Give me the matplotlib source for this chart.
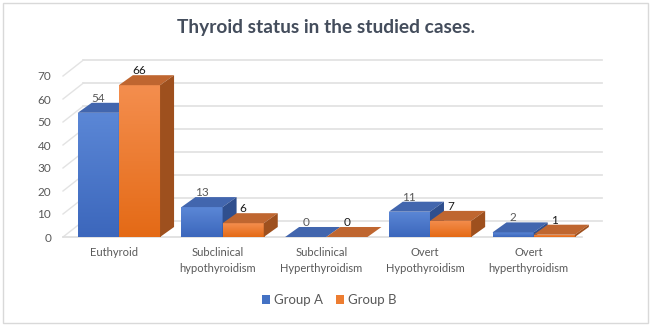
import numpy as np
import matplotlib.pyplot as plt
from matplotlib.patches import Polygon, Rectangle
from matplotlib.colors import LinearSegmentedColormap

# data
categories = ["Euthyroid", "Subclinical\nhypothyroidism", "Subclinical\nHyperthyroidism",
              "Overt\nHypothyroidism", "Overt\nhyperthyroidism"]
group_a = [54, 13, 0, 11, 2]
group_b = [66, 6, 0, 7, 1]
yticks = [0, 10, 20, 30, 40, 50, 60, 70]
title = "Thyroid status in the studied cases."

plt.rcParams['font.family'] = ['Lato', 'DejaVu Sans']

fig = plt.figure(figsize=(6.54, 3.28), dpi=100)
ax = fig.add_axes([63/654, 91/328, 519/654, 161/328])
x = np.arange(len(categories))
w = 0.397
xmin, xmax = -0.539, 4.466
ax.set_xlim(xmin, xmax)
ax.set_ylim(0, 70)

# fake 3D offsets (data units)
bdx, bdy = 0.135, 4.35   # bar depth
wdx, wdy = 0.197, 6.96   # back wall depth

grid_col = '#E3E3E3'
for v in yticks:
    # back wall gridline
    ax.plot([xmin + wdx, xmax + wdx], [v + wdy, v + wdy], color=grid_col, lw=1.3,
            clip_on=False, zorder=0.5)
    # left side wall diagonal
    ax.plot([xmin, xmin + wdx], [v, v + wdy], color=grid_col, lw=1.0,
            clip_on=False, zorder=0.5)
# floor front edge
ax.plot([xmin, xmax], [0, 0], color='#DDDDDD', lw=1.2, clip_on=False, zorder=0.6)

styles = {
    'A': dict(top='#5B87D6', bot='#3C67BC', lid='#4266AE', side='#2F4F8E',
              legend='#4472C4', label='#595959'),
    'B': dict(top='#F48E4E', bot='#E46A16', lid='#BF6630', side='#9E501E',
              legend='#ED7D31', label='#1A1A1A'),
}

grad = np.linspace(0, 1, 64).reshape(-1, 1)

def draw_group(offset, vals, st, z, name):
    bars = ax.bar(x + offset, vals, w, align='edge', color=st['legend'],
                  label=name, zorder=z, linewidth=0)
    cmap = LinearSegmentedColormap.from_list('g', [st['bot'], st['top']])
    for rect, v in zip(bars, vals):
        x0 = rect.get_x()
        x1 = x0 + rect.get_width()
        if v > 0:
            im = ax.imshow(grad, extent=[x0, x1, 0, v], origin='lower', cmap=cmap,
                           aspect='auto', zorder=z + 0.05, interpolation='bilinear')
            im.set_clip_path(rect)
        # top face
        ax.add_patch(Polygon([(x0, v), (x1, v), (x1 + bdx, v + bdy), (x0 + bdx, v + bdy)],
                             closed=True, facecolor=st['lid'], edgecolor='none',
                             zorder=z + 0.1, clip_on=False))
        # side face
        ax.add_patch(Polygon([(x1, 0), (x1 + bdx, bdy), (x1 + bdx, v + bdy), (x1, v)],
                             closed=True, facecolor=st['side'], edgecolor='none',
                             zorder=z + 0.1, clip_on=False))
        ax.text((x0 + x1) / 2, v + bdy + 2, str(v), ha='center', va='center',
                fontsize=8.5, color=st['label'], zorder=10)
    return bars

draw_group(-w, group_a, styles['A'], 2, "Group A")
draw_group(0, group_b, styles['B'], 3, "Group B")

ax.set_xlim(xmin, xmax)
ax.set_ylim(0, 70)
ax.set_aspect('auto')

for s in ax.spines.values():
    s.set_visible(False)
ax.set_yticks(yticks)
ax.set_xticks(x - 0.048)
ax.set_xticklabels(categories, linespacing=1.5)
ax.tick_params(axis='y', length=0, pad=8.6, labelsize=8.5, labelcolor='#595959')
ax.tick_params(axis='x', length=0, pad=7.5, labelsize=8, labelcolor='#595959')

fig.text(326/654, 1 - 27/328, title, ha='center', va='center', fontsize=13.8,
         fontweight='bold', color='#444D5C')

fig.legend(loc='center', bbox_to_anchor=(329/654, 28/328), ncol=2, frameon=False,
           handlelength=0.6, handleheight=0.6, handletextpad=0.3, columnspacing=1.0,
           fontsize=9.5, labelcolor='#595959')

fig.add_artist(Rectangle((3/654, 5/328), 645/654, 320/328, transform=fig.transFigure,
                         fill=False, edgecolor='#D9D9D9', lw=1))

fig.savefig('out.png', dpi=100, facecolor='white')
